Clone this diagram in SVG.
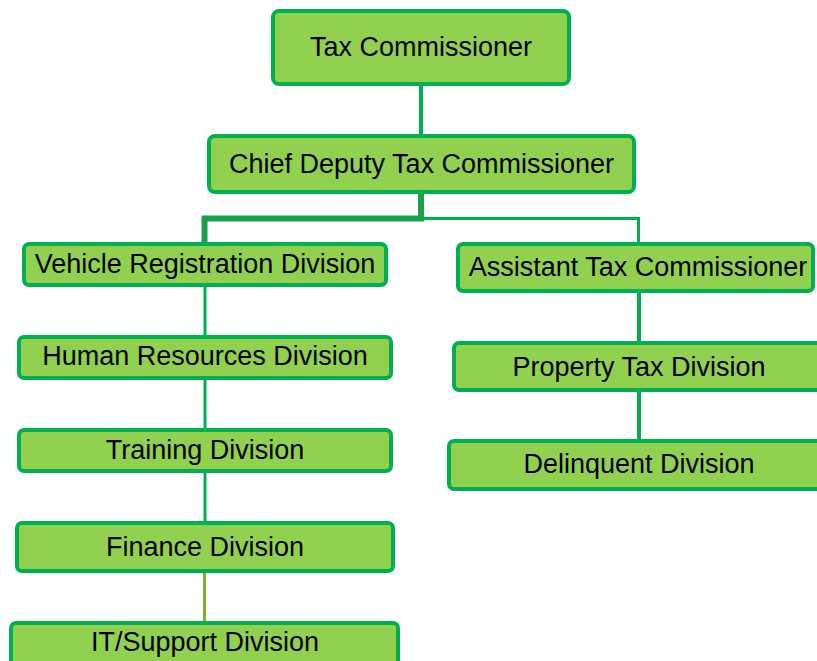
<svg xmlns="http://www.w3.org/2000/svg" width="817" height="661" viewBox="0 0 817 661">
<style>
.box{fill:#92d050;stroke:#00b050;stroke-width:4}
.lbl{font-family:"Liberation Sans",Arial,sans-serif;font-size:27px;fill:#000;text-anchor:middle}
.c{stroke:#00b050;fill:none}
.ct{stroke:#1aa049;fill:none;stroke-width:6}
</style>
<rect width="817" height="661" fill="#fff"/>
<g id="connectors">
<line class="c" x1="421" y1="86" x2="421" y2="134" stroke-width="4"/>
<line class="ct" x1="421" y1="194" x2="421" y2="221"/>
<line class="c" x1="421" y1="218.5" x2="638.5" y2="218.5" stroke-width="3"/>
<line class="c" x1="638.5" y1="217" x2="638.5" y2="242" stroke-width="3"/>
<line class="ct" x1="202" y1="218.5" x2="424" y2="218.5"/>
<line class="ct" x1="204.5" y1="216" x2="204.5" y2="242" stroke-width="5"/>
<line class="c" x1="205" y1="287" x2="205" y2="335" stroke-width="3"/>
<line class="c" x1="205" y1="380" x2="205" y2="428" stroke-width="3"/>
<line class="c" x1="205" y1="473" x2="205" y2="521" stroke-width="3"/>
<line x1="204.5" y1="573" x2="204.5" y2="621" stroke="#77b32c" stroke-width="3"/>
<line class="c" x1="639" y1="293" x2="639" y2="341" stroke-width="4"/>
<line class="c" x1="639" y1="392" x2="639" y2="439" stroke-width="4"/>
</g>
<g id="tax-commissioner"><rect class="box" x="273" y="11" width="296" height="73" rx="6"/><text class="lbl" x="421" y="56">Tax Commissioner</text></g>
<g id="chief-deputy"><rect class="box" x="209" y="136" width="425" height="56" rx="6"/><text class="lbl" x="421.5" y="173">Chief Deputy Tax Commissioner</text></g>
<g id="vehicle-registration"><rect class="box" x="24" y="244" width="362" height="41" rx="5"/><text class="lbl" x="205" y="273">Vehicle Registration Division</text></g>
<g id="human-resources"><rect class="box" x="19" y="337" width="372" height="41" rx="5"/><text class="lbl" x="205" y="365">Human Resources Division</text></g>
<g id="training"><rect class="box" x="19" y="430" width="372" height="41" rx="5"/><text class="lbl" x="205" y="459">Training Division</text></g>
<g id="finance"><rect class="box" x="17" y="523" width="376" height="48" rx="5"/><text class="lbl" x="205" y="556">Finance Division</text></g>
<g id="it-support"><rect class="box" x="11" y="623" width="387" height="50" rx="5"/><text class="lbl" x="205" y="651">IT/Support Division</text></g>
<g id="assistant"><rect class="box" x="458" y="244" width="355" height="47" rx="5"/><text class="lbl" x="638" y="276">Assistant Tax Commissioner</text></g>
<g id="property-tax"><rect class="box" x="454" y="343" width="370" height="47" rx="5"/><text class="lbl" x="639" y="376">Property Tax Division</text></g>
<g id="delinquent"><rect class="box" x="449" y="441" width="380" height="48" rx="5"/><text class="lbl" x="639" y="473">Delinquent Division</text></g>
</svg>
